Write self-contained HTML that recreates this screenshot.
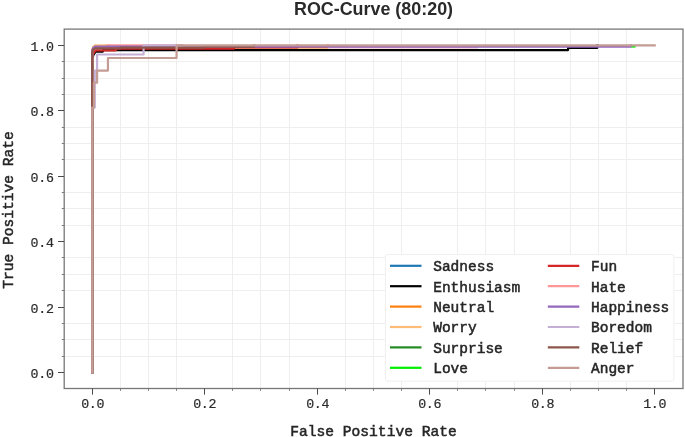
<!DOCTYPE html>
<html><head><meta charset="utf-8"><style>
html,body{margin:0;padding:0;background:#fff;overflow:hidden}
svg{display:block;will-change:transform}
.g{stroke:#eeeeee;stroke-width:1}
.c{fill:none;stroke-width:2.2;stroke-linecap:square;stroke-linejoin:round}
.t{stroke:#4a4a4a;stroke-width:1}
.tm{stroke:#7a7a7a;stroke-width:1}
.tl{font-family:"Liberation Mono",monospace;font-size:13.3px;letter-spacing:-0.3px;fill:#2a2a2a;stroke:#2a2a2a;stroke-width:0.2px}
.lg{font-family:"Liberation Mono",monospace;font-weight:normal;font-size:14.5px;fill:#262626;stroke:#262626;stroke-width:0.5px}
.al{font-family:"Liberation Mono",monospace;font-weight:normal;font-size:14.6px;fill:#262626;stroke:#262626;stroke-width:0.5px}
.ti{font-family:"Liberation Sans",sans-serif;font-weight:bold;font-size:17.9px;fill:#2a2a2a}
</style></head><body>
<svg width="685" height="437" viewBox="0 0 685 437">
<rect width="685" height="437" fill="#fff"/>
<line x1="120.50" y1="29.0" x2="120.50" y2="388.6" class="g"/>
<line x1="148.50" y1="29.0" x2="148.50" y2="388.6" class="g"/>
<line x1="176.50" y1="29.0" x2="176.50" y2="388.6" class="g"/>
<line x1="232.50" y1="29.0" x2="232.50" y2="388.6" class="g"/>
<line x1="260.50" y1="29.0" x2="260.50" y2="388.6" class="g"/>
<line x1="289.50" y1="29.0" x2="289.50" y2="388.6" class="g"/>
<line x1="345.50" y1="29.0" x2="345.50" y2="388.6" class="g"/>
<line x1="373.50" y1="29.0" x2="373.50" y2="388.6" class="g"/>
<line x1="401.50" y1="29.0" x2="401.50" y2="388.6" class="g"/>
<line x1="457.50" y1="29.0" x2="457.50" y2="388.6" class="g"/>
<line x1="485.50" y1="29.0" x2="485.50" y2="388.6" class="g"/>
<line x1="514.50" y1="29.0" x2="514.50" y2="388.6" class="g"/>
<line x1="570.50" y1="29.0" x2="570.50" y2="388.6" class="g"/>
<line x1="598.50" y1="29.0" x2="598.50" y2="388.6" class="g"/>
<line x1="626.50" y1="29.0" x2="626.50" y2="388.6" class="g"/>
<line x1="64.0" y1="356.50" x2="683.0" y2="356.50" class="g"/>
<line x1="64.0" y1="339.50" x2="683.0" y2="339.50" class="g"/>
<line x1="64.0" y1="323.50" x2="683.0" y2="323.50" class="g"/>
<line x1="64.0" y1="290.50" x2="683.0" y2="290.50" class="g"/>
<line x1="64.0" y1="274.50" x2="683.0" y2="274.50" class="g"/>
<line x1="64.0" y1="257.50" x2="683.0" y2="257.50" class="g"/>
<line x1="64.0" y1="225.50" x2="683.0" y2="225.50" class="g"/>
<line x1="64.0" y1="208.50" x2="683.0" y2="208.50" class="g"/>
<line x1="64.0" y1="192.50" x2="683.0" y2="192.50" class="g"/>
<line x1="64.0" y1="159.50" x2="683.0" y2="159.50" class="g"/>
<line x1="64.0" y1="143.50" x2="683.0" y2="143.50" class="g"/>
<line x1="64.0" y1="127.50" x2="683.0" y2="127.50" class="g"/>
<line x1="64.0" y1="94.50" x2="683.0" y2="94.50" class="g"/>
<line x1="64.0" y1="78.50" x2="683.0" y2="78.50" class="g"/>
<line x1="64.0" y1="61.50" x2="683.0" y2="61.50" class="g"/>
<polyline points="92.20,372.40 92.20,61.75" stroke="#1f77b4" class="c"/>
<polyline points="92.20,372.40 92.20,60.12 93.33,55.21 95.58,51.61 102.89,51.61 102.89,50.08 568.08,50.08 568.08,47.85 597.33,47.85 597.33,45.40" stroke="#000000" class="c"/>
<polyline points="92.20,372.40 92.20,50.31 94.45,47.49 327.89,47.49 327.89,45.40" stroke="#ff7f0e" class="c"/>
<polyline points="327.89,47.49 478.08,47.49" stroke="#f5b8c4" class="c" style="stroke-linecap:butt"/>
<polyline points="92.20,372.40 92.20,50.31 93.04,47.03 95.01,45.40 109.08,45.40" stroke="#ffbb78" class="c"/>
<polyline points="92.20,372.40 92.20,61.75" stroke="#228b22" class="c"/>
<polyline points="92.20,372.40 92.20,61.75" stroke="#00ee00" class="c"/>
<polyline points="630.79,46.54 635.58,46.54" stroke="#00ee00" class="c" style="stroke-linecap:butt"/>
<polyline points="92.20,372.40 92.20,55.21 95.58,50.31 115.83,50.31 115.83,48.67 233.95,48.67 233.95,47.49 297.51,47.49 297.51,45.40" stroke="#d62728" class="c"/>
<polyline points="92.20,372.40 92.20,50.31 94.45,47.69 107.39,47.69 107.39,45.40 182.20,45.40" stroke="#ff9896" class="c"/>
<polyline points="92.20,372.40 92.20,51.29 93.04,48.02 95.01,46.54 630.79,46.54 630.79,45.40" stroke="#9467bd" class="c"/>
<polyline points="92.20,372.40 92.20,107.53 94.79,107.53 94.79,70.58 97.09,70.58 97.09,54.49 143.56,54.49 143.56,45.40 182.20,45.40" stroke="#c5b0d5" class="c"/>
<polyline points="92.20,372.40 92.20,52.59 93.04,49.65 95.01,48.34 120.33,48.34 120.33,47.69 204.70,47.69 204.70,46.71 254.20,46.71 254.20,45.40" stroke="#8c564b" class="c"/>
<polyline points="92.20,372.40 92.20,107.53 93.89,107.53 93.89,82.68 97.09,82.68 97.09,70.58 107.95,70.58 107.95,57.99 176.57,57.99 176.57,45.40 654.70,45.40" stroke="#c49c94" class="c"/>
<rect x="64.2" y="29.1" width="618.8" height="359.4" fill="none" stroke="#777" stroke-width="1.3"/>
<line x1="92.50" y1="388.6" x2="92.50" y2="394.6" class="t"/>
<line x1="64.0" y1="372.50" x2="58.0" y2="372.50" class="t"/>
<text x="92.70" y="408.40" class="tl" text-anchor="middle">0.0</text>
<text x="53.6" y="377.50" class="tl" text-anchor="end">0.0</text>
<line x1="204.50" y1="388.6" x2="204.50" y2="394.6" class="t"/>
<line x1="64.0" y1="307.50" x2="58.0" y2="307.50" class="t"/>
<text x="204.70" y="408.40" class="tl" text-anchor="middle">0.2</text>
<text x="53.6" y="312.50" class="tl" text-anchor="end">0.2</text>
<line x1="317.50" y1="388.6" x2="317.50" y2="394.6" class="t"/>
<line x1="64.0" y1="241.50" x2="58.0" y2="241.50" class="t"/>
<text x="317.70" y="408.40" class="tl" text-anchor="middle">0.4</text>
<text x="53.6" y="246.50" class="tl" text-anchor="end">0.4</text>
<line x1="429.50" y1="388.6" x2="429.50" y2="394.6" class="t"/>
<line x1="64.0" y1="176.50" x2="58.0" y2="176.50" class="t"/>
<text x="429.70" y="408.40" class="tl" text-anchor="middle">0.6</text>
<text x="53.6" y="181.50" class="tl" text-anchor="end">0.6</text>
<line x1="542.50" y1="388.6" x2="542.50" y2="394.6" class="t"/>
<line x1="64.0" y1="110.50" x2="58.0" y2="110.50" class="t"/>
<text x="542.70" y="408.40" class="tl" text-anchor="middle">0.8</text>
<text x="53.6" y="115.50" class="tl" text-anchor="end">0.8</text>
<line x1="654.50" y1="388.6" x2="654.50" y2="394.6" class="t"/>
<line x1="64.0" y1="45.50" x2="58.0" y2="45.50" class="t"/>
<text x="654.70" y="408.40" class="tl" text-anchor="middle">1.0</text>
<text x="53.6" y="50.50" class="tl" text-anchor="end">1.0</text>
<line x1="120.50" y1="388.6" x2="120.50" y2="390.8" class="tm"/>
<line x1="64.0" y1="356.50" x2="61.8" y2="356.50" class="tm"/>
<line x1="148.50" y1="388.6" x2="148.50" y2="390.8" class="tm"/>
<line x1="64.0" y1="339.50" x2="61.8" y2="339.50" class="tm"/>
<line x1="176.50" y1="388.6" x2="176.50" y2="390.8" class="tm"/>
<line x1="64.0" y1="323.50" x2="61.8" y2="323.50" class="tm"/>
<line x1="232.50" y1="388.6" x2="232.50" y2="390.8" class="tm"/>
<line x1="64.0" y1="290.50" x2="61.8" y2="290.50" class="tm"/>
<line x1="260.50" y1="388.6" x2="260.50" y2="390.8" class="tm"/>
<line x1="64.0" y1="274.50" x2="61.8" y2="274.50" class="tm"/>
<line x1="289.50" y1="388.6" x2="289.50" y2="390.8" class="tm"/>
<line x1="64.0" y1="257.50" x2="61.8" y2="257.50" class="tm"/>
<line x1="345.50" y1="388.6" x2="345.50" y2="390.8" class="tm"/>
<line x1="64.0" y1="225.50" x2="61.8" y2="225.50" class="tm"/>
<line x1="373.50" y1="388.6" x2="373.50" y2="390.8" class="tm"/>
<line x1="64.0" y1="208.50" x2="61.8" y2="208.50" class="tm"/>
<line x1="401.50" y1="388.6" x2="401.50" y2="390.8" class="tm"/>
<line x1="64.0" y1="192.50" x2="61.8" y2="192.50" class="tm"/>
<line x1="457.50" y1="388.6" x2="457.50" y2="390.8" class="tm"/>
<line x1="64.0" y1="159.50" x2="61.8" y2="159.50" class="tm"/>
<line x1="485.50" y1="388.6" x2="485.50" y2="390.8" class="tm"/>
<line x1="64.0" y1="143.50" x2="61.8" y2="143.50" class="tm"/>
<line x1="514.50" y1="388.6" x2="514.50" y2="390.8" class="tm"/>
<line x1="64.0" y1="127.50" x2="61.8" y2="127.50" class="tm"/>
<line x1="570.50" y1="388.6" x2="570.50" y2="390.8" class="tm"/>
<line x1="64.0" y1="94.50" x2="61.8" y2="94.50" class="tm"/>
<line x1="598.50" y1="388.6" x2="598.50" y2="390.8" class="tm"/>
<line x1="64.0" y1="78.50" x2="61.8" y2="78.50" class="tm"/>
<line x1="626.50" y1="388.6" x2="626.50" y2="390.8" class="tm"/>
<line x1="64.0" y1="61.50" x2="61.8" y2="61.50" class="tm"/>
<rect x="385.4" y="254.6" width="288.5" height="126.5" rx="1.8" fill="#ffffff" fill-opacity="1" stroke="#efefef" stroke-width="1"/>
<line x1="390.0" y1="265.8" x2="421.5" y2="265.8" stroke="#1f77b4" stroke-width="2.2"/>
<text x="433.2" y="271.2" class="lg">Sadness</text>
<line x1="390.0" y1="286.2" x2="421.5" y2="286.2" stroke="#000000" stroke-width="2.2"/>
<text x="433.2" y="291.6" class="lg">Enthusiasm</text>
<line x1="390.0" y1="306.6" x2="421.5" y2="306.6" stroke="#ff7f0e" stroke-width="2.2"/>
<text x="433.2" y="312.0" class="lg">Neutral</text>
<line x1="390.0" y1="327.0" x2="421.5" y2="327.0" stroke="#ffbb78" stroke-width="2.2"/>
<text x="433.2" y="332.4" class="lg">Worry</text>
<line x1="390.0" y1="347.4" x2="421.5" y2="347.4" stroke="#228b22" stroke-width="2.2"/>
<text x="433.2" y="352.8" class="lg">Surprise</text>
<line x1="390.0" y1="367.8" x2="421.5" y2="367.8" stroke="#00ee00" stroke-width="2.2"/>
<text x="433.2" y="373.2" class="lg">Love</text>
<line x1="547.8" y1="265.8" x2="579.3" y2="265.8" stroke="#d62728" stroke-width="2.2"/>
<text x="591.0" y="271.2" class="lg">Fun</text>
<line x1="547.8" y1="286.2" x2="579.3" y2="286.2" stroke="#ff9896" stroke-width="2.2"/>
<text x="591.0" y="291.6" class="lg">Hate</text>
<line x1="547.8" y1="306.6" x2="579.3" y2="306.6" stroke="#9467bd" stroke-width="2.2"/>
<text x="591.0" y="312.0" class="lg">Happiness</text>
<line x1="547.8" y1="327.0" x2="579.3" y2="327.0" stroke="#c5b0d5" stroke-width="2.2"/>
<text x="591.0" y="332.4" class="lg">Boredom</text>
<line x1="547.8" y1="347.4" x2="579.3" y2="347.4" stroke="#8c564b" stroke-width="2.2"/>
<text x="591.0" y="352.8" class="lg">Relief</text>
<line x1="547.8" y1="367.8" x2="579.3" y2="367.8" stroke="#c49c94" stroke-width="2.2"/>
<text x="591.0" y="373.2" class="lg">Anger</text>
<text transform="translate(373.5,14.6)" x="0" y="0" class="ti" text-anchor="middle">ROC-Curve (80:20)</text>
<text x="373.5" y="436.2" class="al" text-anchor="middle">False Positive Rate</text>
<text transform="translate(13.0,210) rotate(-90)" x="0" y="0" class="al" text-anchor="middle">True Positive Rate</text>
</svg>
</body></html>
